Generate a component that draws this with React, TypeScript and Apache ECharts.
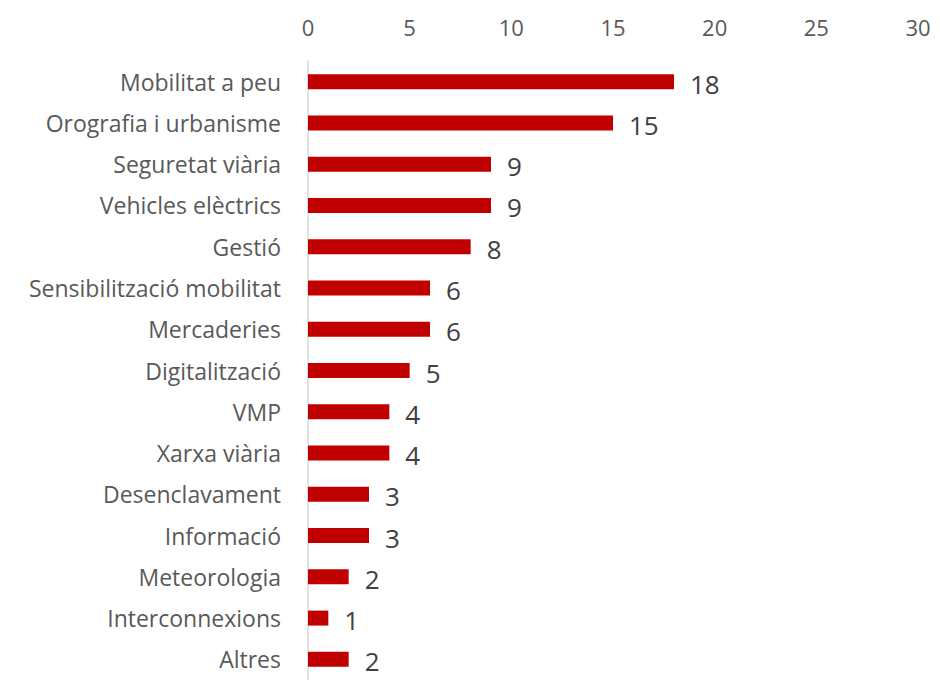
import React, { useEffect, useRef } from "react";
import * as echarts from "echarts";

const categories = [
  "Mobilitat a peu",
  "Orografia i urbanisme",
  "Seguretat viària",
  "Vehicles elèctrics",
  "Gestió",
  "Sensibilització mobilitat",
  "Mercaderies",
  "Digitalització",
  "VMP",
  "Xarxa viària",
  "Desenclavament",
  "Informació",
  "Meteorologia",
  "Interconnexions",
  "Altres",
];
const values = [18, 15, 9, 9, 8, 6, 6, 5, 4, 4, 3, 3, 2, 1, 2];
const xTicks = { min: 0, max: 30, interval: 5 };

export default function App() {
  const ref = useRef<HTMLDivElement>(null);
  useEffect(() => {
    if (!ref.current) return;
    const chart = echarts.init(ref.current, undefined, { renderer: "svg" });
    const font = "Open Sans, Noto Sans, sans-serif";
    chart.setOption({
      animation: false,
      grid: { left: 300, top: 53, width: 610, height: 626, containLabel: false },
      xAxis: {
        type: "value",
        position: "top",
        min: xTicks.min,
        max: xTicks.max,
        interval: xTicks.interval,
        axisLine: { show: false },
        axisTick: { show: false },
        splitLine: { show: false },
        axisLabel: { color: "#595959", fontSize: 22, fontFamily: font, margin: 23 },
      },
      yAxis: {
        type: "category",
        inverse: true,
        data: categories,
        axisLine: { show: true, lineStyle: { color: "#d9d9d9", width: 1.5 } },
        axisTick: { show: false },
        axisLabel: { color: "#595959", fontSize: 23, fontFamily: font, margin: 27 },
      },
      series: [
        {
          type: "bar",
          data: values,
          barWidth: 15,
          itemStyle: { color: "#C00000" },
          label: {
            show: true,
            position: "right",
            distance: 16,
            color: "#404040",
            fontSize: 26,
            fontFamily: font,
            offset: [0, 2],
          },
        },
      ],
    });
    return () => chart.dispose();
  }, []);
  return <div ref={ref} style={{ width: 932, height: 672 }} />;
}
